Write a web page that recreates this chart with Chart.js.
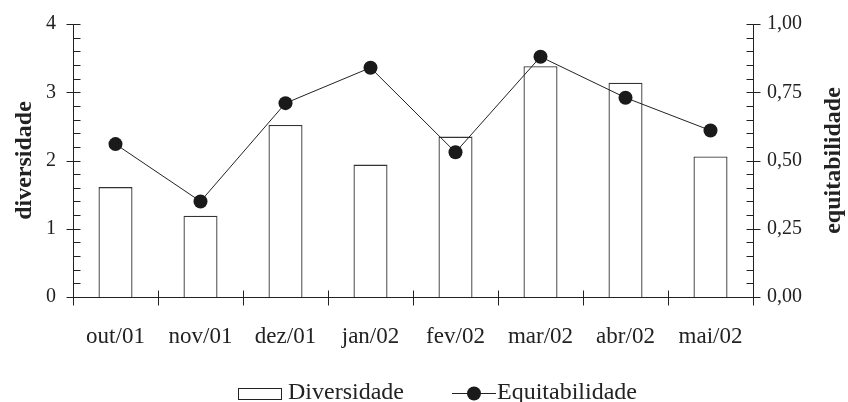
<!DOCTYPE html>
<html>
<head>
<meta charset="utf-8">
<script src="https://cdn.jsdelivr.net/npm/chart.js@4/dist/chart.umd.min.js"></script>
<style>
  html, body { margin: 0; padding: 0; background: #fff; }
  canvas { display: block; }
</style>
</head>
<body>
<canvas id="c" width="848" height="402"></canvas>
<script>
// Monthly samples, Oct 2001 – May 2002
const months = ['out/01', 'nov/01', 'dez/01', 'jan/02', 'fev/02', 'mar/02', 'abr/02', 'mai/02'];
const diversidade = [1.61, 1.19, 2.52, 1.94, 2.35, 3.38, 3.14, 2.06];
const equitabilidade = [0.56, 0.35, 0.71, 0.84, 0.53, 0.88, 0.73, 0.61];
const leftTicks = [0, 1, 2, 3, 4];
const rightTicks = [0, 0.25, 0.5, 0.75, 1];

const INK = '#222';
const SERIF = '"Liberation Serif", "Times New Roman", serif';

// Axis lines, crossing tick marks, minor ticks, axis titles and legend
const decorations = {
  id: 'decorations',
  afterDraw(chart) {
    const { ctx, chartArea: a, scales: { x, y, y1 } } = chart;
    const L = Math.round(a.left) + 0.5;
    const R = Math.round(a.right) + 0.5;
    const B = Math.round(a.bottom) + 0.5;
    ctx.save();
    ctx.strokeStyle = INK;
    ctx.lineWidth = 1;
    ctx.beginPath();
    // axis lines
    ctx.moveTo(L, Math.round(a.top) + 0.5); ctx.lineTo(L, B + 8);
    ctx.moveTo(R, Math.round(a.top) + 0.5); ctx.lineTo(R, B + 8);
    ctx.moveTo(L, B); ctx.lineTo(R, B);
    // left axis: major ticks cross the axis, minor ticks point inward
    for (let k = 0; k <= 20; k++) {
      const py = Math.round(y.getPixelForValue(k * 0.2)) + 0.5;
      const major = k % 5 === 0;
      ctx.moveTo(major ? L - 7 : L, py); ctx.lineTo(L + 7, py);
    }
    // right axis
    for (let k = 0; k <= 20; k++) {
      const py = Math.round(y1.getPixelForValue(k * 0.05)) + 0.5;
      const major = k % 5 === 0;
      ctx.moveTo(R - 7, py); ctx.lineTo(major ? R + 7 : R, py);
    }
    // category boundaries on the x axis
    for (let i = 1; i < months.length; i++) {
      const px = Math.round((x.getPixelForValue(i - 1) + x.getPixelForValue(i)) / 2) + 0.5;
      ctx.moveTo(px, B - 7); ctx.lineTo(px, B + 8);
    }
    ctx.stroke();

    // axis titles, both reading bottom to top
    ctx.fillStyle = INK;
    ctx.font = 'bold 24px ' + SERIF;
    ctx.textAlign = 'center';
    ctx.textBaseline = 'alphabetic';
    const midY = (a.top + a.bottom) / 2;
    [['diversidade', 31], ['equitabilidade', 840]].forEach(([t, bx]) => {
      ctx.save();
      ctx.translate(bx, midY);
      ctx.rotate(-Math.PI / 2);
      ctx.fillText(t, 0, 0);
      ctx.restore();
    });

    // legend
    const base = 399;
    ctx.font = '24px ' + SERIF;
    ctx.textAlign = 'left';
    ctx.strokeRect(238.5, 388.5, 43, 11);
    ctx.fillText(chart.data.datasets[1].label, 288, base);
    const ly = 393.5;
    ctx.beginPath();
    ctx.moveTo(452, ly); ctx.lineTo(496, ly);
    ctx.stroke();
    ctx.beginPath();
    ctx.arc(474, ly, 7, 0, Math.PI * 2);
    ctx.fillStyle = '#1a1a1a';
    ctx.fill();
    ctx.fillStyle = INK;
    ctx.fillText(chart.data.datasets[0].label, 497, base);
    ctx.restore();
  }
};

// keep the plot area edges fixed regardless of tick label overflow
function noEdgePadding(s) {
  s.paddingTop = 0; s.paddingBottom = 0; s.paddingLeft = 0; s.paddingRight = 0;
}

new Chart(document.getElementById('c'), {
  data: {
    labels: months,
    datasets: [
      {
        type: 'line',
        label: 'Equitabilidade',
        data: equitabilidade,
        yAxisID: 'y1',
        borderColor: INK,
        borderWidth: 1,
        pointRadius: 7,
        pointHoverRadius: 7,
        pointBackgroundColor: '#1a1a1a',
        pointBorderColor: '#1a1a1a',
        pointBorderWidth: 0,
        tension: 0,
        order: 0
      },
      {
        type: 'bar',
        label: 'Diversidade',
        data: diversidade,
        yAxisID: 'y',
        backgroundColor: '#fff',
        borderColor: '#333',
        borderWidth: 1.3,
        barPercentage: 0.4,
        categoryPercentage: 1,
        order: 1
      }
    ]
  },
  options: {
    responsive: false,
    animation: false,
    layout: { padding: { top: 24, left: 0, right: 0, bottom: 0 } },
    plugins: { legend: { display: false }, tooltip: { enabled: false } },
    scales: {
      x: {
        type: 'category',
        offset: true,
        grid: { display: false, drawTicks: false },
        border: { display: false },
        ticks: { color: INK, font: { family: SERIF, size: 23 }, padding: 26, maxRotation: 0 },
        afterFit(s) { s.height = 105; noEdgePadding(s); }
      },
      y: {
        type: 'linear',
        position: 'left',
        min: 0, max: 4,
        afterBuildTicks(s) { s.ticks = leftTicks.map(v => ({ value: v })); },
        grid: { display: false, drawTicks: false },
        border: { display: false },
        ticks: { color: INK, font: { family: SERIF, size: 20 }, padding: 17 },
        afterFit(s) { s.width = 73; noEdgePadding(s); }
      },
      y1: {
        type: 'linear',
        position: 'right',
        min: 0, max: 1,
        afterBuildTicks(s) { s.ticks = rightTicks.map(v => ({ value: v })); },
        grid: { display: false, drawTicks: false },
        border: { display: false },
        ticks: {
          color: INK, font: { family: SERIF, size: 20 }, padding: 14,
          callback: v => v.toFixed(2).replace('.', ',')
        },
        afterFit(s) { s.width = 95; noEdgePadding(s); }
      }
    }
  },
  plugins: [decorations]
});
</script>
</body>
</html>
